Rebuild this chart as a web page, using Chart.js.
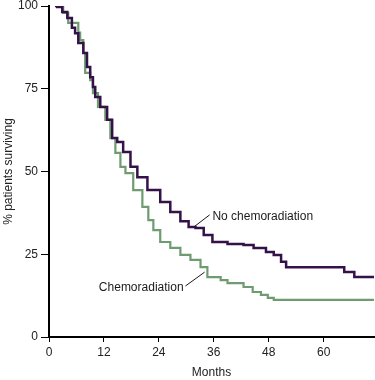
<!DOCTYPE html>
<html lang="en">
<head>
  <meta charset="UTF-8">
  <title>Survival curves</title>
  <script src="https://cdn.jsdelivr.net/npm/chart.js"></script>
  <style>
    body { margin: 0; background: #fff; }
  </style>
</head>
<body>
  <canvas id="survivalCanvas" width="375" height="380"></canvas>

  <script>
    // axis ticks
    const monthTicks = [0, 12, 24, 36, 48, 60];
    const percentTicks = [0, 25, 50, 75, 100];

    // No chemoradiation
    const noChemoMonths = [1.3, 1.8, 2.9, 4.0, 5.0, 5.7, 6.4, 7.5, 8.3, 9.0, 9.6, 10.1, 11.2, 12.7, 13.8, 14.9, 16.2, 17.8, 19.3, 21.5, 24.3, 26.5, 28.7, 30.5, 32.0, 33.8, 35.7, 39.0, 42.5, 44.7, 47.4, 49.1, 50.7, 51.8, 64.5, 66.7, 71];
    const noChemoSurvival = [100, 99.7, 98.2, 96.4, 93.4, 91.8, 88.8, 85.8, 81.6, 78.5, 75.5, 72.5, 69.5, 65.6, 60.1, 58.9, 55.9, 51.4, 48.3, 44.4, 40.8, 37.8, 35.0, 33.2, 32.9, 30.8, 28.7, 28.1, 27.8, 26.9, 25.7, 24.8, 22.7, 21.1, 19.6, 18.1, 18.1];

    // Chemoradiation
    const chemoMonths = [2.0, 3.1, 4.2, 6.4, 6.8, 7.5, 7.9, 9.0, 9.6, 10.7, 12.3, 13.4, 14.5, 15.6, 16.7, 18.4, 20.4, 21.7, 22.8, 24.3, 26.5, 28.7, 30.9, 33.1, 34.6, 37.5, 39.0, 42.5, 44.5, 46.3, 47.8, 49.1, 71];
    const chemoSurvival = [100, 97.9, 94.9, 92.0, 89.7, 85.8, 79.8, 77.6, 73.7, 69.5, 65.6, 60.1, 55.6, 51.4, 49.5, 44.4, 39.3, 35.3, 32.3, 28.7, 26.9, 24.8, 23.3, 21.1, 18.1, 17.2, 16.3, 15.1, 13.6, 12.7, 11.8, 11.2, 11.2];

    const toPoints = (xs, ys) => xs.map((x, i) => ({ x: x, y: ys[i] }));

    // curve labels with leader lines, in data units
    const curveLabels = [
      { text: 'No chemoradiation', align: 'left', pos: [35.7, 36.3], line: [[31.6, 33.2], [35.1, 36.9]] },
      { text: 'Chemoradiation', align: 'right', pos: [29.4, 14.8], line: [[29.8, 15.4], [34.0, 19.6]] }
    ];

    const labelPlugin = {
      id: 'curveLabels',
      afterDatasetsDraw(chart) {
        const ctx = chart.ctx;
        const xs = chart.scales.x, ys = chart.scales.y;
        ctx.save();
        ctx.font = '12px "Liberation Sans", Arial, sans-serif';
        ctx.fillStyle = '#1a1a1a';
        ctx.strokeStyle = '#1a1a1a';
        ctx.lineWidth = 1;
        ctx.textBaseline = 'middle';
        curveLabels.forEach(l => {
          ctx.beginPath();
          ctx.moveTo(xs.getPixelForValue(l.line[0][0]), ys.getPixelForValue(l.line[0][1]));
          ctx.lineTo(xs.getPixelForValue(l.line[1][0]), ys.getPixelForValue(l.line[1][1]));
          ctx.stroke();
          ctx.textAlign = l.align;
          ctx.fillText(l.text, xs.getPixelForValue(l.pos[0]), ys.getPixelForValue(l.pos[1]));
        });
        ctx.restore();
      }
    };

    const font = { family: '"Liberation Sans", Arial, sans-serif', size: 12 };

    const ctx = document.getElementById('survivalCanvas').getContext('2d');
    new Chart(ctx, {
      type: 'line',
      data: {
        datasets: [
          {
            label: 'No chemoradiation',
            data: toPoints(noChemoMonths, noChemoSurvival),
            borderColor: '#35114a',
            borderWidth: 2.5,
            stepped: true,
            pointRadius: 0,
            fill: false
          },
          {
            label: 'Chemoradiation',
            data: toPoints(chemoMonths, chemoSurvival),
            borderColor: '#6f9b70',
            borderWidth: 2.2,
            stepped: true,
            pointRadius: 0,
            fill: false
          }
        ]
      },
      options: {
        responsive: false,
        animation: false,
        layout: { padding: { top: 6, right: 1, left: 0, bottom: 0 } },
        plugins: {
          legend: { display: false },
          tooltip: { enabled: false }
        },
        scales: {
          x: {
            type: 'linear',
            min: 0,
            max: 71,
            afterBuildTicks: s => { s.ticks = monthTicks.map(v => ({ value: v })); },
            afterFit: s => { s.height = 43; s.paddingRight = 0; },
            grid: { drawOnChartArea: false, tickLength: 5, color: '#000' },
            border: { color: '#000', width: 2 },
            ticks: { color: '#222', font: font, padding: 3 },
            title: { display: true, text: 'Months', color: '#222', font: font, padding: { top: 0, bottom: 0 } }
          },
          y: {
            min: 0,
            max: 100,
            afterBuildTicks: s => { s.ticks = percentTicks.map(v => ({ value: v })); },
            afterFit: s => { s.width = 49; s.paddingTop = 0; s.paddingBottom = 0; },
            grid: { drawOnChartArea: false, tickLength: 8, color: '#000' },
            border: { color: '#000', width: 2 },
            ticks: { color: '#222', font: font, padding: 3 },
            title: { display: true, text: '% patients surviving', color: '#222', font: font, padding: { top: 1, bottom: 0 } }
          }
        }
      },
      plugins: [labelPlugin]
    });
  </script>
</body>
</html>
